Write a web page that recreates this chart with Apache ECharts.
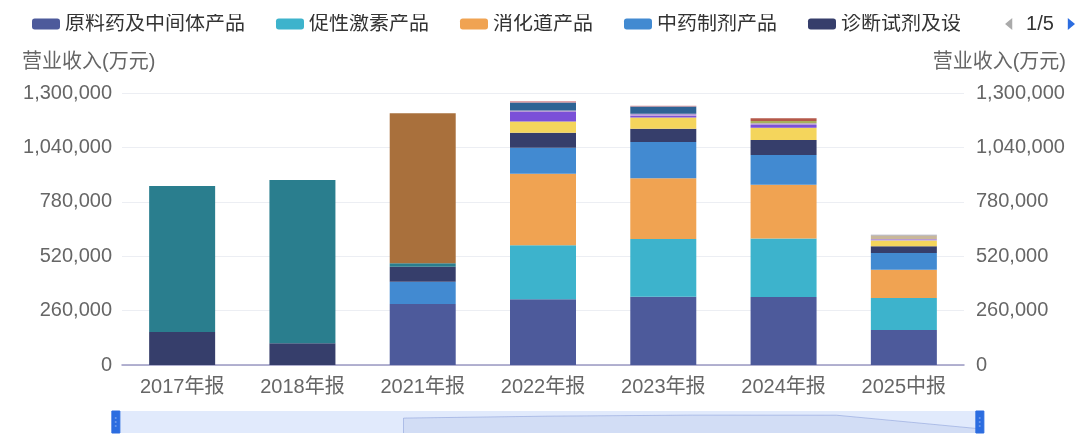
<!DOCTYPE html>
<html>
<head>
<meta charset="utf-8">
<script src="https://cdn.jsdelivr.net/npm/echarts@6/dist/echarts.min.js"></script>
<style>
html,body{margin:0;padding:0;background:#fff;}
#box{width:1080px;height:435px;}
</style>
</head>
<body>
<div id="box"></div>
<script>
// 报告期
var periods = ['2017年报', '2018年报', '2021年报', '2022年报', '2023年报', '2024年报', '2025中报'];

// 各产品营业收入(万元)，'-' 表示该期无数据
var yuanliao  = ['-', '-', 291500, 314000, 326000, 325000, 167000];
var cuxing    = ['-', '-', '-', 258000, 276000, 280000, 153000];
var xiaohua   = ['-', '-', '-', 342000, 290000, 256500, 135000];
var zhongyao  = ['-', '-', 106600, 124000, 173500, 142000, 80000];
var zhenduan  = [157700, 104000, 71700, 72000, 64000, 72000, 33000];
var jingshen  = ['-', '-', '-', 54000, 54000, 59000, 27000];
var kangganr  = ['-', '-', '-', 45000, 8000, 13000, '-'];
var xinnao    = ['-', '-', '-', 7000, 9000, 8000, 7000];
var qitaCp    = ['-', '-', '-', 38000, 35000, '-', '-'];
var qitaYw    = ['-', '-', '-', 6000, 3000, '-', '-'];
var zhongliu  = ['-', '-', '-', '-', '-', 11000, '-'];
var yanke     = ['-', '-', '-', '-', '-', 13000, '-'];
var shengwu   = ['-', '-', '-', '-', '-', '-', 17000];
var qita      = ['-', '-', '-', '-', '-', '-', 3000];
var gongye    = [698000, 780000, 16000, '-', '-', '-', '-'];
var xiyao     = ['-', '-', 717000, '-', '-', '-', '-'];
var empty     = ['-', '-', '-', '-', '-', '-', '-'];

var yTicks = {min: 0, max: 1300000, interval: 260000};

var seriesList = [
    ['原料药及中间体产品', yuanliao, '#4d5a9b'],
    ['促性激素产品', cuxing, '#3db3cc'],
    ['消化道产品', xiaohua, '#f0a352'],
    ['中药制剂产品', zhongyao, '#428ad1'],
    ['诊断试剂及设备', zhenduan, '#363e6b'],
    ['精神产品', jingshen, '#f4d55c'],
    ['抗感染产品', kangganr, '#7b50d8'],
    ['心脑血管产品', xinnao, '#b79ad6'],
    ['其他产品', qitaCp, '#2e6394'],
    ['其他业务', qitaYw, '#d6868d'],
    ['抗肿瘤及免疫产品', zhongliu, '#a6b05d'],
    ['眼科产品', yanke, '#b4584a'],
    ['生物制品', shengwu, '#c8b79a'],
    ['其他', qita, '#9b9cb0'],
    ['医药工业', gongye, '#2a7e8e'],
    ['西药制剂产品', xiyao, '#a9703c'],
    ['医药商业', empty, '#6d8fc9'],
    ['保健食品', empty, '#8bc48a'],
    ['技术服务', empty, '#e07a5f'],
    ['原料药出口', empty, '#5bb5a2'],
    ['国内销售', empty, '#c06c84'],
    ['海外销售', empty, '#e6b04a'],
    ['租赁收入', empty, '#7f8fa6']
];

var font = '"Liberation Sans", "Noto Sans CJK SC", sans-serif';
var myChart = echarts.init(document.getElementById('box'));

var series = seriesList.map(function (s) {
    return {
        name: s[0],
        type: 'bar',
        stack: 'total',
        barWidth: 66,
        itemStyle: {color: s[2]},
        data: s[1]
    };
});

var option = {
    textStyle: {fontFamily: font},
    animation: false,
    legend: {
        type: 'scroll',
        left: 27,
        right: 27,
        top: 9,
        itemWidth: 28,
        itemHeight: 11,
        itemGap: 31,
        icon: 'roundRect',
        textStyle: {fontSize: 20, color: '#333', fontFamily: font},
        pageIconColor: '#2c6de0',
        pageIconInactiveColor: '#aaa',
        pageIconSize: 12,
        pageButtonGap: 45,
        pageTextStyle: {fontSize: 20, color: '#333', fontFamily: font},
        data: seriesList.map(function (s) { return s[0]; })
    },
    grid: {left: 122, right: 116, top: 93, bottom: 70},
    xAxis: {
        type: 'category',
        data: periods,
        axisLine: {lineStyle: {color: '#9b99c2', width: 1.5}},
        axisTick: {show: false},
        axisLabel: {fontSize: 20, color: '#666', margin: 12, fontFamily: font}
    },
    yAxis: [
        {
            type: 'value',
            name: '营业收入(万元)',
            min: yTicks.min, max: yTicks.max, interval: yTicks.interval,
            nameGap: 21,
            nameTextStyle: {fontSize: 20, color: '#666', fontFamily: font, align: 'left', padding: [0, 0, 0, -100]},
            axisLabel: {fontSize: 20, color: '#666', margin: 10, fontFamily: font},
            axisLine: {show: false},
            axisTick: {show: false},
            splitLine: {lineStyle: {color: '#eceef3'}}
        },
        {
            type: 'value',
            name: '营业收入(万元)',
            position: 'right',
            min: yTicks.min, max: yTicks.max, interval: yTicks.interval,
            nameGap: 21,
            nameTextStyle: {fontSize: 20, color: '#666', fontFamily: font, align: 'right', padding: [0, -102, 0, 0]},
            axisLabel: {fontSize: 20, color: '#666', margin: 12, fontFamily: font},
            axisLine: {show: false},
            axisTick: {show: false},
            splitLine: {show: false}
        }
    ],
    dataZoom: [{
        type: 'slider',
        xAxisIndex: 0,
        start: 0,
        end: 100,
        left: 114,
        right: 100,
        bottom: 2,
        height: 22,
        showDetail: false,
        brushSelect: false,
        moveHandleSize: 0,
        borderColor: 'transparent',
        backgroundColor: 'rgba(0,0,0,0)',
        fillerColor: 'rgba(120,160,240,0.22)',
        dataBackground: {
            lineStyle: {color: '#8fb0ee', width: 1},
            areaStyle: {color: '#a8c1f3', opacity: 0.55}
        },
        handleIcon: 'path://M0,0H8V22H0Z M3,6V8H5V6Z M3,10V12H5V10Z M3,14V16H5V14Z',
        handleSize: '100%',
        handleStyle: {color: '#2c6de0', borderColor: '#2c6de0'}
    }],
    series: series
};

myChart.setOption(option);
</script>
</body>
</html>
